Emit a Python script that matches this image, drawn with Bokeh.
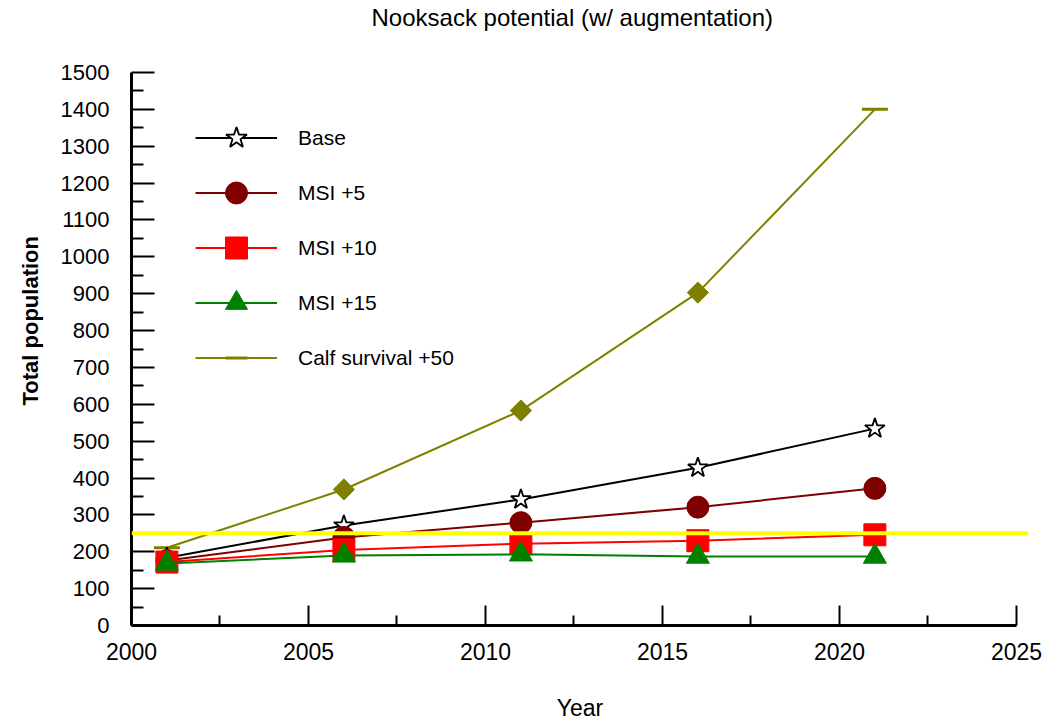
from bokeh.plotting import figure
from bokeh.models import Range1d, Span, Legend, LegendItem, FixedTicker, Title
from bokeh.embed import file_html
from bokeh.resources import INLINE

years = [2001, 2006, 2011, 2016, 2021]
base = [184, 271, 342, 428, 534]
msi5 = [176, 239, 279, 321, 372]
msi10 = [172, 205, 222, 230, 246]
msi15 = [168, 190, 193, 187, 187]
calf = [211, 369, 583, 903, 1400]
threshold = 250
x_ticks = [2000, 2005, 2010, 2015, 2020, 2025]
y_ticks = list(range(0, 1501, 100))

FONT = "Liberation Sans"

p = figure(width=1045, height=723, output_backend="svg", toolbar_location=None,
           x_range=Range1d(2000, 2025.34), y_range=Range1d(0, 1500),
           min_border_left=131, min_border_right=17, min_border_top=72, min_border_bottom=98)
p.outline_line_color = None
p.xgrid.visible = False
p.ygrid.visible = False
p.background_fill_color = "white"
p.border_fill_color = "white"

p.title.text = "Nooksack potential (w/ augmentation)"
p.title.align = "left"
p.title.offset = 240
p.title.standoff = 0
p.title.text_font = FONT
p.title.text_font_style = "normal"
p.title.text_font_size = "24px"
p.title.text_color = "black"

# invisible spacer between the frame and the title
p.add_layout(Title(text="\u00a0", text_font_size="1px", standoff=39), "above")

# y-axis title on the left side, shifted up a little like the original
p.add_layout(Title(text="Total population", align="left", offset=220, standoff=30, text_font=FONT,
                   text_font_style="bold", text_font_size="22px", text_color="black"), "left")

# threshold line
p.add_layout(Span(location=threshold, dimension="width", line_color="#ffff00", line_width=4))

# calf survival
r_cl = p.line(years, calf, line_color="#808000", line_width=2)
r_cd = p.scatter([years[0], years[-1]], [calf[0], calf[-1]], marker="dash", size=26,
                 line_color="#808000", line_width=3)
p.scatter(years[1:4], calf[1:4], marker="square", angle=0.785398, size=15,
          fill_color="#808000", line_color="#808000")

# base
r_bl = p.line(years, base, line_color="black", line_width=2)
r_bm = p.scatter(years, base, marker="star", size=21, fill_color="white", line_color="black", line_width=1.8)
# msi5
r_5l = p.line(years, msi5, line_color="#800000", line_width=2)
r_5m = p.scatter(years, msi5, marker="circle", size=22, fill_color="#800000", line_color="#800000")
# msi10
r_10l = p.line(years, msi10, line_color="#ff0000", line_width=2)
r_10m = p.scatter(years, msi10, marker="square", size=22, fill_color="#ff0000", line_color="#ff0000")
# msi15
r_15l = p.line(years, msi15, line_color="#008000", line_width=2)
r_15m = p.scatter(years, msi15, marker="triangle", size=23, fill_color="#008000", line_color="#008000")

legend = Legend(items=[
    LegendItem(label="Base", renderers=[r_bl, r_bm]),
    LegendItem(label="MSI +5", renderers=[r_5l, r_5m]),
    LegendItem(label="MSI +10", renderers=[r_10l, r_10m]),
    LegendItem(label="MSI +15", renderers=[r_15l, r_15m]),
    LegendItem(label="Calf survival +50", renderers=[r_cl, r_cd]),
], location=(64, 240))
legend.border_line_color = None
legend.background_fill_alpha = 0
legend.padding = 0
legend.margin = 0
legend.spacing = 0
legend.glyph_width = 82
legend.glyph_height = 55
legend.label_standoff = 21
legend.label_text_font = FONT
legend.label_text_font_size = "21px"
legend.label_text_color = "black"
legend.label_height = 55
p.add_layout(legend)

for ax in (p.xaxis[0], p.yaxis[0]):
    ax.axis_line_width = 3
    ax.axis_line_color = "black"
    ax.major_tick_line_width = 2
    ax.minor_tick_line_width = 2
    ax.major_tick_out = 0
    ax.minor_tick_out = 0
    ax.major_label_text_font = FONT
    ax.major_label_text_font_size = "23px"
    ax.major_label_text_color = "black"
    ax.axis_label_text_color = "black"

xa = p.xaxis[0]
xa.ticker = FixedTicker(ticks=x_ticks, minor_ticks=[2002.5, 2007.5, 2012.5, 2017.5, 2022.5])
xa.bounds = (2000, 2025)
xa.major_tick_in = 20
xa.minor_tick_in = 10
xa.major_label_standoff = 17
xa.axis_label = "Year"
xa.axis_label_text_font = FONT
xa.axis_label_text_font_style = "normal"
xa.axis_label_text_font_size = "23px"
xa.axis_label_standoff = 32

ya = p.yaxis[0]
ya.ticker = FixedTicker(ticks=y_ticks, minor_ticks=[v + 50 for v in y_ticks[:-1]])
ya.major_tick_in = 23
ya.minor_tick_in = 12
ya.major_label_standoff = 22
ya.major_label_text_font_size = "22px"

open("out.html", "w").write(file_html(p, INLINE))
